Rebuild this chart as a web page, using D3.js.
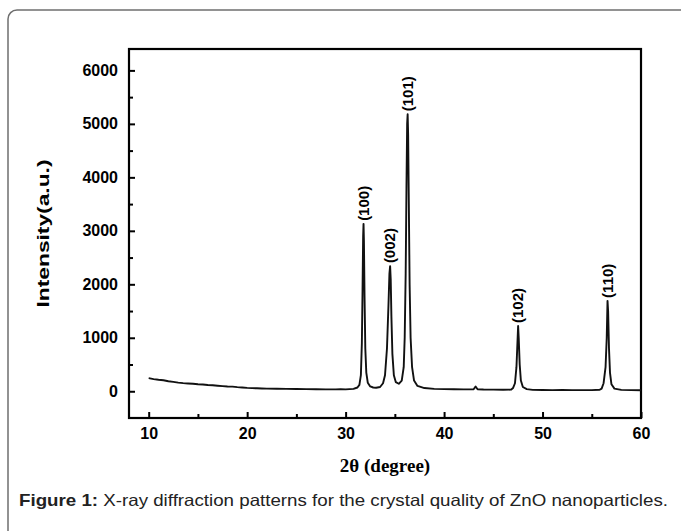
<!DOCTYPE html>
<html>
<head>
<meta charset="utf-8">
<script src="https://cdn.jsdelivr.net/npm/d3@7"></script>
<style>
  body { margin: 0; background: #fff; }
  svg { display: block; }
</style>
</head>
<body>
<svg id="chart"></svg>
<script>
// XRD pattern of ZnO (2theta in degrees, intensity a.u.)
const twoTheta = [
  10, 10.5, 11, 11.5, 12, 12.5, 13, 13.5, 14, 14.5, 15, 15.5, 16, 16.5, 17, 17.5,
  18, 18.5, 19, 19.5, 20, 20.5, 21, 21.5, 22, 23, 24, 25, 26, 27, 28, 29, 29.5,
  30, 30.8, 31.2, 31.4, 31.55, 31.65, 31.72, 31.78, 31.82, 31.86, 31.92, 32.0,
  32.1, 32.25, 32.5, 32.8, 33.1, 33.5, 33.8, 34.0, 34.2, 34.35, 34.45, 34.52,
  34.58, 34.65, 34.75, 34.9, 35.1, 35.4, 35.7, 35.9, 36.0, 36.1, 36.18, 36.25,
  36.3, 36.35, 36.42, 36.5, 36.6, 36.75, 36.95, 37.3, 38, 39, 40, 41, 42, 42.8,
  43.0, 43.2, 43.4, 44, 45, 46, 46.8, 47.0, 47.2, 47.35, 47.45, 47.52, 47.58,
  47.68, 47.8, 48.0, 48.4, 49, 50, 51, 52, 53, 54, 55, 55.8, 56.0, 56.2, 56.4,
  56.52, 56.6, 56.66, 56.75, 56.85, 57.0, 57.3, 58, 59, 60
];
const intensity = [
  245, 228, 215, 205, 188, 176, 162, 152, 146, 140, 131, 126, 117, 112, 104, 97,
  90, 86, 77, 71, 63, 58, 56, 52, 50, 47, 45, 42, 40, 38, 36, 35, 38,
  35, 45, 70, 120, 300, 900, 1900, 2900, 3130, 2800, 1800, 800,
  350, 160, 90, 70, 65, 80, 150, 300, 800, 1600, 2200, 2340,
  2100, 1400, 700, 300, 170, 140, 200, 450, 1000, 2200, 3800, 5000,
  5180, 4800, 3500, 2000, 1000, 450, 200, 100, 60, 45, 40, 38, 36, 35,
  38, 90, 38, 32, 30, 28, 30, 60, 150, 450, 900, 1220, 1000,
  500, 200, 80, 40, 25, 24, 22, 23, 21, 22, 22, 28, 50, 150, 450,
  1000, 1690, 1500, 800, 350, 130, 50, 25, 22, 20
];

const peakLabels = ["(100)", "(002)", "(101)", "(102)", "(110)"];
const peakTheta = [31.82, 34.52, 36.3, 47.52, 56.6];
const peakHeight = [3130, 2340, 5180, 1220, 1690];

const xMajor = [10, 20, 30, 40, 50, 60];
const xMinor = [15, 25, 35, 45, 55];
const yMajor = [0, 1000, 2000, 3000, 4000, 5000, 6000];
const yMinor = [500, 1500, 2500, 3500, 4500, 5500];

const W = 681, H = 531;
const margin = { top: 49, right: 40, bottom: 113, left: 129 };

const svg = d3.select("#chart").attr("width", W).attr("height", H);

// page frame
svg.append("rect")
  .attr("x", 8).attr("y", 10)
  .attr("width", 720).attr("height", 560)
  .attr("rx", 9)
  .attr("fill", "none")
  .attr("stroke", "#6f6f6f")
  .attr("stroke-width", 1.5);

const x = d3.scaleLinear().domain([8, 60]).range([margin.left, W - margin.right]);
const y = d3.scaleLinear().domain([-500, 6400]).range([H - margin.bottom, margin.top]);

const axisFont = "Arial, 'Liberation Sans', sans-serif";

// x axis
svg.append("g")
  .attr("transform", `translate(0,${y(-500)})`)
  .call(d3.axisBottom(x).tickValues(xMajor).tickSize(-6).tickPadding(10).tickFormat(d3.format("d")));
svg.append("g")
  .attr("transform", `translate(0,${y(-500)})`)
  .call(d3.axisBottom(x).tickValues(xMinor).tickSize(-4).tickFormat(""));

// y axis
svg.append("g")
  .attr("transform", `translate(${x(8)},0)`)
  .call(d3.axisLeft(y).tickValues(yMajor).tickSize(-6).tickPadding(11).tickFormat(d3.format("d")));
svg.append("g")
  .attr("transform", `translate(${x(8)},0)`)
  .call(d3.axisLeft(y).tickValues(yMinor).tickSize(-4).tickFormat(""));

svg.selectAll(".domain").remove();
svg.selectAll(".tick line").attr("stroke", "#000").attr("stroke-width", 2);
svg.selectAll(".tick text")
  .attr("fill", "#000")
  .style("font-family", axisFont)
  .style("font-weight", "bold")
  .style("font-size", "16px");

// plot frame
svg.append("rect")
  .attr("x", x(8)).attr("y", y(6400))
  .attr("width", x(60) - x(8)).attr("height", y(-500) - y(6400))
  .attr("fill", "none")
  .attr("stroke", "#000")
  .attr("stroke-width", 2.2);

// pattern
const pts = twoTheta.map((t, i) => [t, intensity[i]]);
svg.append("path")
  .datum(pts)
  .attr("fill", "none")
  .attr("stroke", "#111")
  .attr("stroke-width", 1.9)
  .attr("stroke-linejoin", "round")
  .attr("d", d3.line().x(d => x(d[0])).y(d => y(d[1])));

// peak labels
svg.selectAll(".peak-label")
  .data(peakLabels)
  .join("text")
    .attr("class", "peak-label")
    .attr("transform", (d, i) => `translate(${x(peakTheta[i]) + 5},${y(peakHeight[i]) - 3}) rotate(-90)`)
    .attr("text-anchor", "start")
    .style("font-family", axisFont)
    .style("font-weight", "bold")
    .style("font-size", "15px")
    .text(d => d);

// axis titles
svg.append("text")
  .attr("transform", `translate(49,${(y(6400) + y(-500)) / 2}) rotate(-90)`)
  .attr("text-anchor", "middle")
  .attr("textLength", 148)
  .attr("lengthAdjust", "spacingAndGlyphs")
  .style("font-family", axisFont)
  .style("font-weight", "bold")
  .style("font-size", "16px")
  .text("Intensity(a.u.)");

svg.append("text")
  .attr("x", (x(8) + x(60)) / 2)
  .attr("y", 472)
  .attr("text-anchor", "middle")
  .style("font-family", "'Times New Roman', 'Liberation Serif', serif")
  .style("font-weight", "bold")
  .style("font-size", "19px")
  .text("2θ (degree)");

// caption
const cap = svg.append("text")
  .attr("x", 19)
  .attr("y", 506)
  .attr("textLength", 649)
  .attr("lengthAdjust", "spacingAndGlyphs")
  .style("font-family", axisFont)
  .style("font-size", "16.5px")
  .attr("fill", "#222");
cap.append("tspan").style("font-weight", "bold").text("Figure 1:");
cap.append("tspan").text(" X-ray diffraction patterns for the crystal quality of ZnO nanoparticles.");
</script>
</body>
</html>
